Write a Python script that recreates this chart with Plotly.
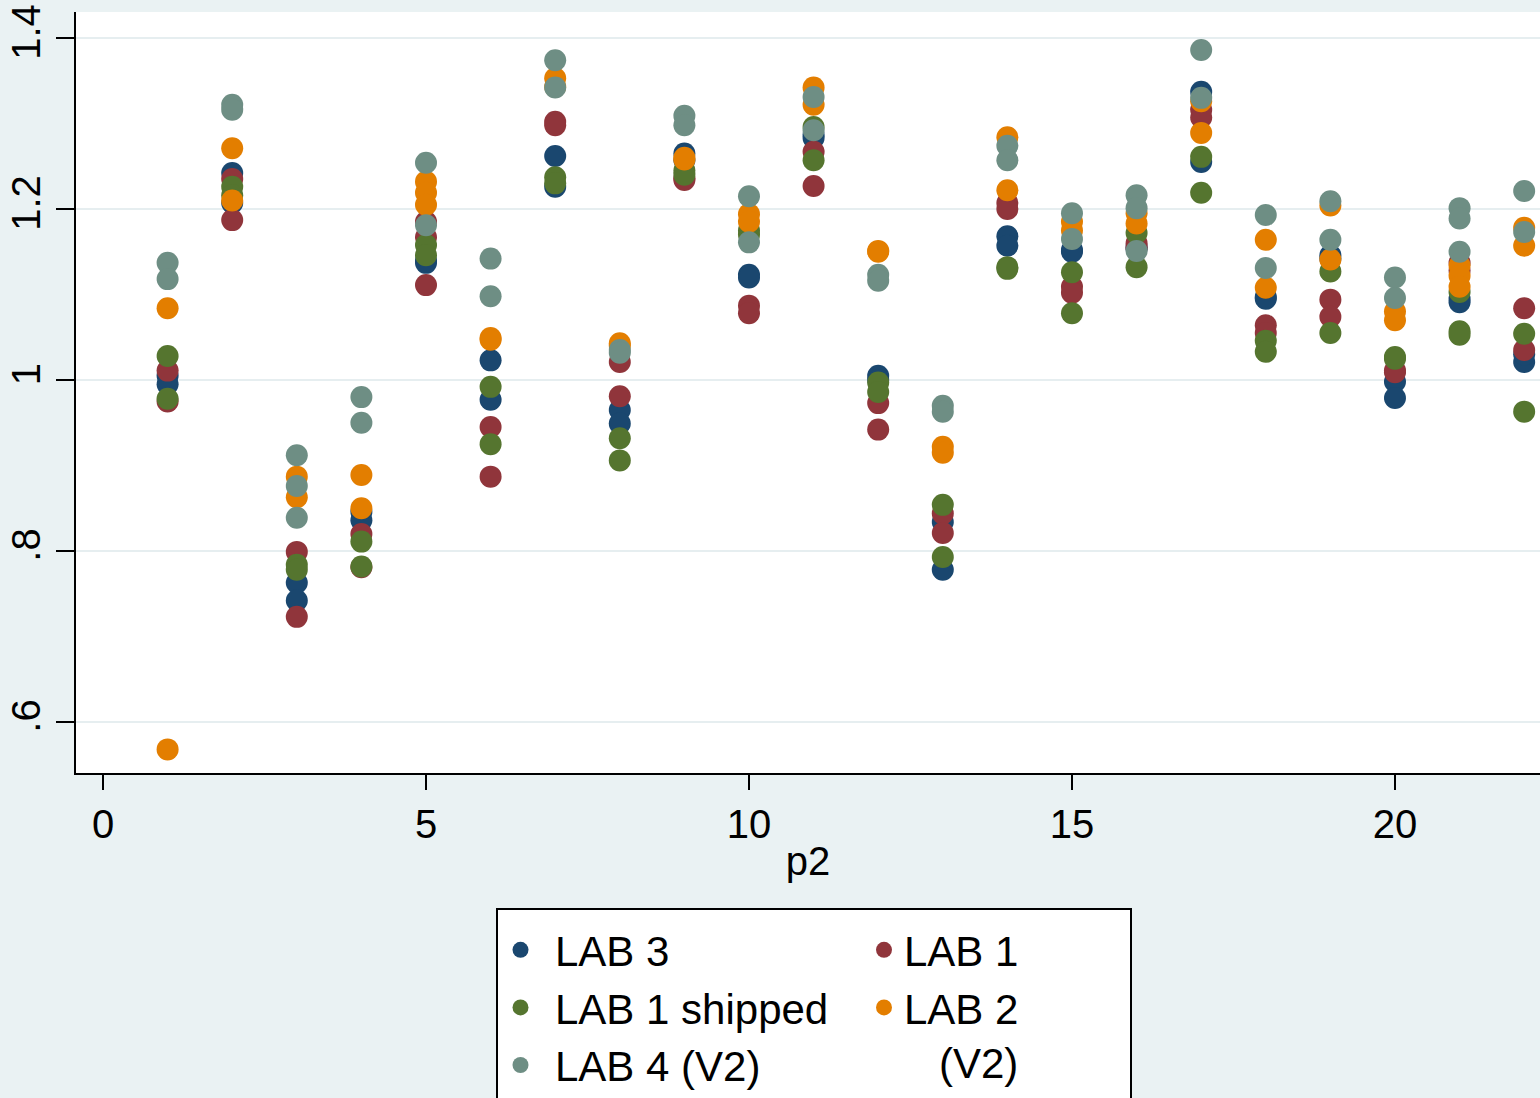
import plotly.graph_objects as go

# ---------------- data ----------------
LAB3_X = [1,1, 2,2, 3,3, 4,4, 5,5, 6,6, 7,7, 8,8, 9,9, 10,10, 11,11, 12,12, 13,13, 14,14, 15,15, 16,16, 17,17, 18,18, 19,19, 20,20, 21,21, 22,22]
LAB3_Y = [1.005,0.995, 1.242,1.207, 0.763,0.742, 0.846,0.836, 1.140,1.137, 1.023,0.977, 1.262,1.226, 0.965,0.949,
          1.265,1.257, 1.123,1.120, 1.287,1.283, 1.005,1.000, 0.834,0.778, 1.168,1.157, 1.152,1.150, 1.156,1.153,
          1.337,1.255, 1.097,1.095, 1.146,1.142, 0.998,0.979, 1.095,1.091, 1.021,1.030]

LAB1_X = [1,1, 2,2, 3,3, 4,4, 5,5,5, 6,6, 7,7, 8,8, 9,9, 10,10, 11,11, 12,12, 13,13, 14,14, 15,15, 16,16, 17,17, 18,18, 19,19, 20,20, 21,21, 22,22]
LAB1_Y = [1.011,0.975, 1.235,1.187, 0.799,0.723, 0.820,0.781, 1.185,1.167,1.111, 0.945,0.887, 1.302,1.298, 1.021,0.981,
          1.236,1.234, 1.087,1.078, 1.267,1.227, 0.973,0.942, 0.844,0.821, 1.207,1.200, 1.109,1.102, 1.160,1.155,
          1.316,1.307, 1.064,1.055, 1.094,1.074, 1.011,1.009, 1.137,1.128, 1.084,1.035]

LAB1S_X = [1,1, 2,2, 3,3, 4,4, 5,5, 6,6, 7,7, 8,8, 9,9, 10,10, 11,11, 12,12, 13,13, 14,14, 15,15, 16,16, 17,17, 18,18, 19,19, 20,20, 21,21,21, 22,22]
LAB1S_Y = [1.028,0.978, 1.226,1.216, 0.784,0.778, 0.811,0.782, 1.158,1.146, 0.992,0.925, 1.237,1.230, 0.932,0.906,
           1.245,1.240, 1.175,1.170, 1.296,1.257, 0.997,0.986, 0.854,0.793, 1.132,1.130, 1.126,1.078, 1.172,1.132,
           1.261,1.219, 1.046,1.033, 1.127,1.055, 1.027,1.025, 1.103,1.057,1.053, 1.054,0.963]

LAB2_X = [1,1, 2,2, 3,3, 4,4, 5,5,5, 6,6, 7,7, 8,8, 9,9, 10,10, 11,11, 12,12, 13,13, 14,14, 15,15, 16,16, 17,17, 18,18, 19,19, 20,20, 21,21,21, 22,22]
LAB2_Y = [1.084,0.568, 1.271,1.210, 0.887,0.863, 0.889,0.850, 1.232,1.219,1.205, 1.049,1.047, 1.353,1.343, 1.043,1.040,
          1.260,1.258, 1.194,1.185, 1.342,1.322, 1.151,1.150, 0.922,0.915, 1.284,1.222, 1.185,1.175, 1.195,1.183,
          1.326,1.289, 1.164,1.108, 1.204,1.141, 1.080,1.070, 1.134,1.122,1.109, 1.178,1.157]

LAB4_X = [1,1, 2,2, 3,3,3, 4,4, 5,5, 6,6, 7,7, 8,8, 9,9, 10,10, 11,11, 12,12, 13,13, 14,14, 15,15, 16,16,16, 17,17, 18,18, 19,19, 20,20, 21,21,21, 22,22]
LAB4_Y = [1.137,1.118, 1.322,1.316, 0.912,0.876,0.839, 0.980,0.950, 1.254,1.181, 1.142,1.098, 1.374,1.342, 1.035,1.032,
          1.309,1.298, 1.215,1.161, 1.331,1.292, 1.123,1.116, 0.970,0.963, 1.274,1.257, 1.195,1.165, 1.216,1.201,1.151,
          1.386,1.330, 1.193,1.131, 1.209,1.164, 1.120,1.096, 1.201,1.189,1.150, 1.221,1.173]

Y_TICKVALS = [0.6, 0.8, 1.0, 1.2, 1.4]
Y_TICKTEXT = [".6", ".8", "1", "1.2", "1.4"]
X_TICKVALS = [0, 5, 10, 15, 20]
X_TICKTEXT = ["0", "5", "10", "15", "20"]

# ---------------- figure ----------------
FONT = "Liberation Sans, Arial, sans-serif"
BG = "#eaf2f3"

series = [
    ("LAB 3", LAB3_X, LAB3_Y, "#1a476f", "legend"),
    ("LAB 1", LAB1_X, LAB1_Y, "#90353b", "legend2"),
    ("LAB 1 shipped", LAB1S_X, LAB1S_Y, "#55752f", "legend"),
    ("LAB 2<br>\u00a0\u00a0\u00a0(V2)", LAB2_X, LAB2_Y, "#e37e00", "legend2"),
    ("LAB 4 (V2)", LAB4_X, LAB4_Y, "#6e8e84", "legend"),
]

fig = go.Figure()
for name, xs, ys, color, lg in series:
    fig.add_trace(go.Scatter(
        x=xs, y=ys, mode="markers", name=name, legend=lg,
        marker=dict(size=22, color=color, line=dict(width=0)),
    ))

W, H = 1540, 1098
L, R, T, B = 76, 0, 12, 325
pw = W - L - R
ph = H - T - B

def px_x(px):
    return (px - L) / pw

def px_y(py):
    return (H - B - py) / ph

fig.update_layout(
    width=W, height=H,
    margin=dict(l=L, r=R, t=T, b=B, autoexpand=False),
    paper_bgcolor=BG, plot_bgcolor="white",
    font=dict(family=FONT, size=40, color="black"),
    showlegend=True,
    xaxis=dict(
        range=[-0.418, 22.245], tickvals=X_TICKVALS, ticktext=X_TICKTEXT,
        showgrid=False, zeroline=False, showline=True, linecolor="black", linewidth=2,
        ticks="outside", ticklen=15, tickwidth=2, tickcolor="black",
        tickfont=dict(size=40, family=FONT),
        title=dict(text="p2", font=dict(size=40, family=FONT), standoff=2),
    ),
    yaxis=dict(
        range=[0.5404, 1.4304], tickvals=Y_TICKVALS, ticktext=Y_TICKTEXT,
        showgrid=True, gridcolor="#e6eef0", gridwidth=2, zeroline=False,
        showline=True, linecolor="black", linewidth=2,
        ticks="outside", ticklen=18, tickwidth=2, tickcolor="black",
        tickangle=-90, tickfont=dict(size=40, family=FONT),
    ),
    legend=dict(
        x=px_x(486), y=px_y(916), xanchor="left", yanchor="top",
        orientation="v", bgcolor="rgba(0,0,0,0)", borderwidth=0,
        font=dict(size=42, family=FONT), itemsizing="trace", itemwidth=59,
        tracegroupgap=0,
    ),
    legend2=dict(
        x=px_x(864), y=px_y(916), xanchor="left", yanchor="top",
        orientation="v", bgcolor="rgba(0,0,0,0)", borderwidth=0,
        font=dict(size=42, family=FONT), itemsizing="trace", valign="top",
        tracegroupgap=0,
    ),
    shapes=[dict(
        type="rect", xref="paper", yref="paper",
        x0=px_x(497), x1=px_x(1131), y0=px_y(909), y1=px_y(1130),
        line=dict(color="black", width=2), fillcolor="white", layer="below",
    )],
)

fig.write_html("out.html")
